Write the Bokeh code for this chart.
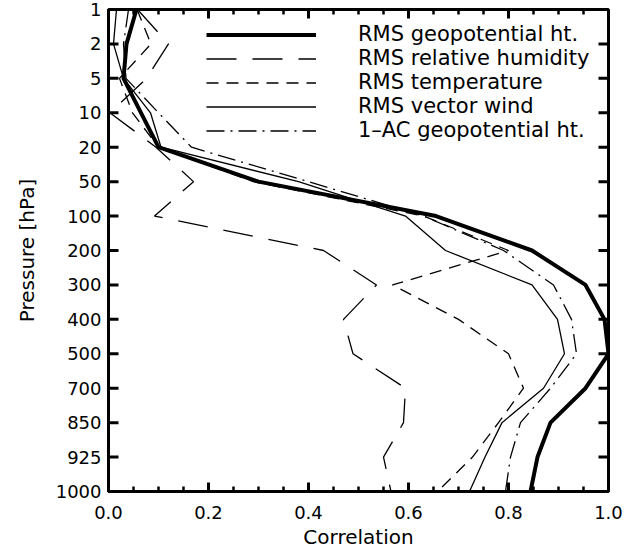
from bokeh.plotting import figure
from bokeh.models import (ColumnDataSource, Range1d, FixedTicker, Legend,
                          LegendItem)
from bokeh.embed import file_html
from bokeh.resources import INLINE

# Pressure levels (top to bottom) and correlation profiles
levels = ["1", "2", "5", "10", "20", "50", "100", "200", "300", "400",
          "500", "700", "850", "925", "1000"]
rms_geopotential = [0.056, 0.036, 0.030, 0.065, 0.100, 0.300, 0.655, 0.847,
                    0.954, 0.992, 1.000, 0.954, 0.884, 0.858, 0.844]
rms_humidity = [0.058, 0.120, 0.076, 0.003, 0.095, 0.170, 0.092, 0.430,
                0.536, 0.470, 0.489, 0.594, 0.590, 0.550, 0.565]
rms_temperature = [0.057, 0.085, 0.022, 0.048, 0.100, 0.290, 0.630, 0.800,
                   0.568, 0.700, 0.800, 0.830, 0.780, 0.728, 0.658]
rms_wind = [0.016, 0.010, 0.030, 0.084, 0.105, 0.380, 0.594, 0.674,
            0.847, 0.898, 0.912, 0.870, 0.787, 0.753, 0.722]
ac_geopotential = [0.040, 0.030, 0.035, 0.100, 0.166, 0.400, 0.630, 0.790,
                   0.890, 0.926, 0.936, 0.884, 0.824, 0.804, 0.794]

x_ticks = [0.0, 0.2, 0.4, 0.6, 0.8, 1.0]
x_minor = [round(i * 0.05, 2) for i in range(21) if i % 4 != 0]

FONT = "DejaVu Sans"
WIDTH, HEIGHT = 627, 551
BORDER_L, BORDER_R, BORDER_T, BORDER_B = 108, 19, 9, 60
FRAME_W = WIDTH - BORDER_L - BORDER_R
FRAME_H = HEIGHT - BORDER_T - BORDER_B

idx = list(range(len(levels)))
y_bottom = len(levels) - 1
src = ColumnDataSource(dict(y=idx, geo=rms_geopotential, rh=rms_humidity,
                            t=rms_temperature, w=rms_wind, ac=ac_geopotential))

p = figure(width=WIDTH, height=HEIGHT, output_backend="svg",
           toolbar_location=None,
           x_range=Range1d(0, 1), y_range=Range1d(y_bottom, 0),
           min_border_left=BORDER_L, min_border_right=BORDER_R,
           min_border_top=BORDER_T, min_border_bottom=BORDER_B,
           x_axis_label="Correlation", y_axis_label="Pressure [hPa]")
p.outline_line_color = "black"
p.outline_line_width = 3
p.xgrid.visible = False
p.ygrid.visible = False

for ax in (p.xaxis[0], p.yaxis[0]):
    ax.axis_line_width = 3
    ax.major_tick_in = 0
    ax.major_tick_out = 0
    ax.minor_tick_in = 0
    ax.minor_tick_out = 0
    ax.major_label_text_font = FONT
    ax.major_label_text_color = "black"
    ax.major_label_text_font_size = "18px"
    ax.axis_label_text_font = FONT
    ax.axis_label_text_font_style = "normal"
    ax.axis_label_text_color = "black"
    ax.axis_label_text_font_size = "20px"

xa = p.xaxis[0]
xa.ticker = FixedTicker(ticks=x_ticks)
xa.major_label_overrides = {v: f"{v:.1f}" for v in x_ticks}
xa.major_label_standoff = 14
xa.axis_label_standoff = 3

ya = p.yaxis[0]
ya.ticker = FixedTicker(ticks=idx)
ya.major_label_overrides = {i: lab for i, lab in enumerate(levels)}
ya.major_label_standoff = 7
ya.axis_label_standoff = 14

# Inward tick marks on all four sides of the frame
ux = 1.0 / FRAME_W             # x data units per pixel
uy = y_bottom / FRAME_H        # y data units per pixel
XMAJ, XMIN, YMAJ = 9, 5, 10    # tick lengths in pixels

def ticks_x(vals, length):
    n = len(vals)
    return dict(x0=vals + vals, x1=vals + vals,
                y0=[y_bottom] * n + [0] * n,
                y1=[y_bottom - length * uy] * n + [length * uy] * n)

p.segment(source=ColumnDataSource(ticks_x(x_ticks, XMAJ)), x0="x0", x1="x1",
          y0="y0", y1="y1", line_color="black", line_width=3)
p.segment(source=ColumnDataSource(ticks_x(x_minor, XMIN)), x0="x0", x1="x1",
          y0="y0", y1="y1", line_color="black", line_width=2.5)
n = len(idx)
p.segment(source=ColumnDataSource(dict(
              y=idx + idx, x0=[0] * n + [1] * n,
              x1=[YMAJ * ux] * n + [1 - YMAJ * ux] * n)),
          x0="x0", x1="x1", y0="y", y1="y", line_color="black",
          line_width=3)

r_geo = p.line("geo", "y", source=src, line_color="black", line_width=4)
r_rh = p.line("rh", "y", source=src, line_color="black", line_width=1.3,
              line_dash="30 16")
r_t = p.line("t", "y", source=src, line_color="black", line_width=1.3,
             line_dash="12 8")
r_w = p.line("w", "y", source=src, line_color="black", line_width=1.3)
r_ac = p.line("ac", "y", source=src, line_color="black", line_width=1.3,
              line_dash="18 6 2 6")

legend = Legend(items=[
    LegendItem(label="RMS geopotential ht.", renderers=[r_geo]),
    LegendItem(label="RMS relative humidity", renderers=[r_rh]),
    LegendItem(label="RMS temperature", renderers=[r_t]),
    LegendItem(label="RMS vector wind", renderers=[r_w]),
    LegendItem(label="1\u2013AC geopotential ht.", renderers=[r_ac]),
], location=(98, 349))
legend.glyph_width = 110
legend.glyph_height = 23
legend.label_height = 23
legend.label_standoff = 42
legend.spacing = 0
legend.padding = 0
legend.margin = 0
legend.border_line_color = None
legend.background_fill_alpha = 0
legend.label_text_font = FONT
legend.label_text_font_size = "21px"
legend.label_text_color = "black"
p.add_layout(legend, "center")

open("out.html", "w").write(file_html(p, INLINE))
